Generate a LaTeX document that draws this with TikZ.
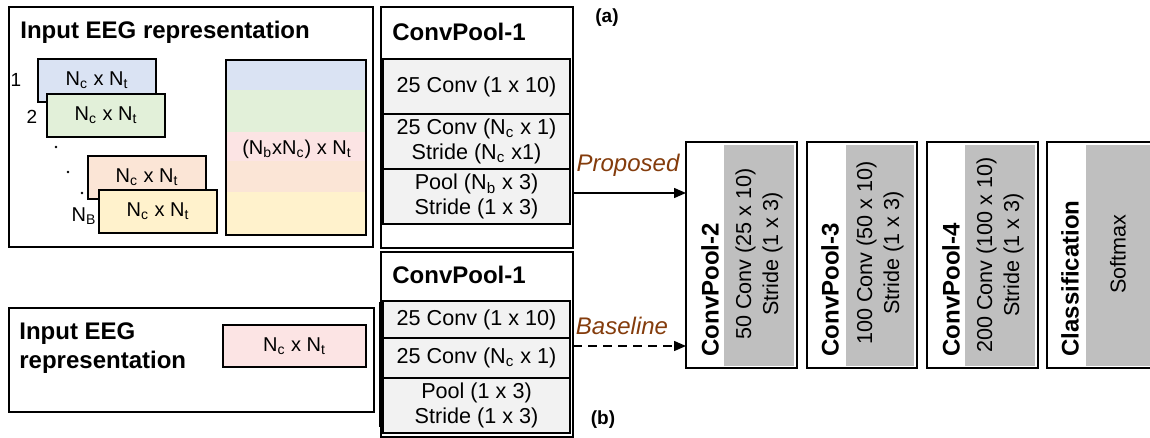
\documentclass[tikz,border=0pt]{standalone}
\usepackage{fontspec}
\setmainfont{Liberation Sans}
\usetikzlibrary{arrows.meta}
\definecolor{cblue}{HTML}{DAE3F3}
\definecolor{cgreen}{HTML}{E2F0D9}
\definecolor{cpink}{HTML}{FCE4E4}
\definecolor{corange}{HTML}{FBE5D6}
\definecolor{cyellow}{HTML}{FFF2CC}
\definecolor{cellgrey}{HTML}{F2F2F2}
\definecolor{panelgrey}{HTML}{BFBFBF}
\definecolor{brownlbl}{HTML}{843C0C}
\newcommand{\sbs}[1]{\textsubscript{#1}}
\begin{document}
\begin{tikzpicture}[x=0.5pt,y=-0.5pt,
  box/.style={draw, line width=0.75pt, inner sep=0pt, outer sep=0pt, anchor=north west},
  cell/.style={draw, line width=0.9pt, fill=cellgrey, inner sep=0pt, outer sep=0pt, anchor=north west, minimum width=93.5pt, font=\fontsize{10.8}{12.5}\selectfont, align=center},
  blk/.style={draw, line width=0.9pt, inner sep=0pt, outer sep=0pt, anchor=north west, minimum width=59pt, minimum height=21.5pt, font=\fontsize{10}{11.5}\selectfont},
  stripe/.style={inner sep=0pt, outer sep=0pt, anchor=north west, minimum width=70pt},
  panel/.style={fill=panelgrey, inner sep=0pt, outer sep=0pt, anchor=north west, minimum height=110.5pt},
  ttl/.style={font=\fontsize{12}{14.5}\selectfont\bfseries, inner sep=0pt},
  rtxt/.style={font=\fontsize{10.8}{13.5}\selectfont, align=center, rotate=90, inner sep=0pt},
  lbl/.style={font=\fontsize{12}{14}\selectfont\itshape, text=brownlbl, inner sep=0pt},
  small/.style={font=\fontsize{9.5}{11}\selectfont, inner sep=0pt},
  tag/.style={font=\fontsize{9.5}{11}\selectfont\bfseries, inner sep=0pt},
  arr/.style={line width=0.75pt, -{Triangle[length=6pt,width=5pt]}}
]
\useasboundingbox (0,0) rectangle (1150,438);

% ---------- (a) input representation
\node[box, minimum width=182pt, minimum height=120pt] (A) at (9,7) {};
\node[ttl, anchor=west] (Atitle) at (20,32) {Input EEG representation};

\node[blk, fill=cblue]   (b1) at (38,59)  {N\sbs{c} x N\sbs{t}};
\node[blk, fill=cgreen]  (b2) at (47,94)  {N\sbs{c} x N\sbs{t}};
\node[blk, fill=corange] (b3) at (88,156) {N\sbs{c} x N\sbs{t}};
\node[blk, fill=cyellow] (b4) at (99,190) {N\sbs{c} x N\sbs{t}};
\node[small] (l1) at (16,80) {1};
\node[small] (l2) at (32,117) {2};
\node[font=\fontsize{10}{11.5}\selectfont, inner sep=0pt] (lB) at (84,216) {N\sbs{B}};
\fill (56,147) circle[radius=0.7pt];
\fill (68,172) circle[radius=0.7pt];
\fill (82,193) circle[radius=0.7pt];

\node[stripe, fill=cblue,   minimum height=15pt]   (s1) at (226,60) {};
\node[stripe, fill=cgreen,  minimum height=21pt]   (s2) at (226,90) {};
\node[stripe, fill=cpink,   minimum height=14.5pt] (s3) at (226,132) {};
\node[stripe, fill=corange, minimum height=15.5pt] (s4) at (226,161) {};
\node[stripe, fill=cyellow, minimum height=21.5pt] (s5) at (226,192) {};
\node[box, line width=1.2pt, minimum width=70pt, minimum height=87.5pt] (big) at (226,60) {};
\node[font=\fontsize{10}{11.5}\selectfont, inner sep=0pt] (bigtxt) at (297,149) {(N\sbs{b}xN\sbs{c}) x N\sbs{t}};

% ---------- (a) ConvPool-1
\node[box, minimum width=96pt, minimum height=120.5pt] (CPa) at (381,7) {};
\node[ttl, anchor=west] (CPatitle) at (392,32) {ConvPool-1};
\node[cell, minimum height=27.5pt] (c1) at (383,59)  {25 Conv (1 x 10)};
\node[cell, minimum height=27.5pt] (c2) at (383,114) {25 Conv (N\sbs{c} x 1)\\Stride (N\sbs{c} x1)};
\node[cell, minimum height=27.5pt] (c3) at (383,169) {Pool (N\sbs{b} x 3)\\Stride (1 x 3)};
\node[tag] (la) at (607,18) {(a)};

% ---------- (b) input representation
\node[box, minimum width=182.5pt, minimum height=52pt] (B) at (9,308) {};
\node[ttl, anchor=west, align=left] (Btitle) at (19,348) {Input EEG\\representation};
\node[blk, fill=cpink, minimum width=71.5pt, minimum height=21pt] (pk) at (223,325) {N\sbs{c} x N\sbs{t}};

% ---------- (b) ConvPool-1
\node[box, minimum width=96pt, minimum height=92.5pt] (CPb) at (381,252) {};
\node[ttl, anchor=west] (CPbtitle) at (392,275) {ConvPool-1};
\node[cell, minimum height=18.5pt] (d1) at (383,301) {25 Conv (1 x 10)};
\node[cell, minimum height=20pt]   (d2) at (383,338) {25 Conv (N\sbs{c} x 1)};
\node[cell, minimum height=27.5pt] (d3) at (383,378) {Pool (1 x 3)\\Stride (1 x 3)};
\draw[line width=1.4pt] (d1.north west) ++(-3,1) -- ++(0,125);
\node[tag] (lb) at (603,420) {(b)};

% ---------- deeper layers
\node[box, minimum width=55.5pt, minimum height=113pt] (CP2) at (686,142) {};
\node[panel, minimum width=35pt] (g2) at (724,145) {};
\node[ttl, rotate=90, anchor=west] (t2) at (710,357) {ConvPool-2};
\node[rtxt] (r2) at (759,254) {50 Conv (25 x 10)\\Stride (1 x 3)};

\node[box, minimum width=55pt, minimum height=113pt] (CP3) at (807,142) {};
\node[panel, minimum width=34pt] (g3) at (846,145) {};
\node[ttl, rotate=90, anchor=west] (t3) at (830,357) {ConvPool-3};
\node[rtxt] (r3) at (880,253) {100 Conv (50 x 10)\\Stride (1 x 3)};

\node[box, minimum width=55.5pt, minimum height=113pt] (CP4) at (927,142) {};
\node[panel, minimum width=35pt] (g4) at (965,145) {};
\node[ttl, rotate=90, anchor=west] (t4) at (951,357) {ConvPool-4};
\node[rtxt] (r4) at (1000,255) {200 Conv (100 x 10)\\Stride (1 x 3)};

\node[box, minimum width=60pt, minimum height=113pt] (CL) at (1047,142) {};
\node[panel, minimum width=40pt] (g5) at (1086,145) {};
\node[ttl, rotate=90, anchor=west] (t5) at (1070,357) {Classification};
\node[rtxt] (r5) at (1118,254) {Softmax};

% ---------- connectors
\coordinate (ya) at (0,193);
\coordinate (yb) at (0,346);
\draw[arr] (CPa.east |- ya) -- (CP2.west |- ya);
\draw[arr, dash pattern=on 4.5pt off 3pt] (CPb.east |- yb) -- (CP2.west |- yb);
\node[lbl] (prop) at (628,165) {Proposed};
\node[lbl] (base) at (622,326) {Baseline};
\end{tikzpicture}
\end{document}
